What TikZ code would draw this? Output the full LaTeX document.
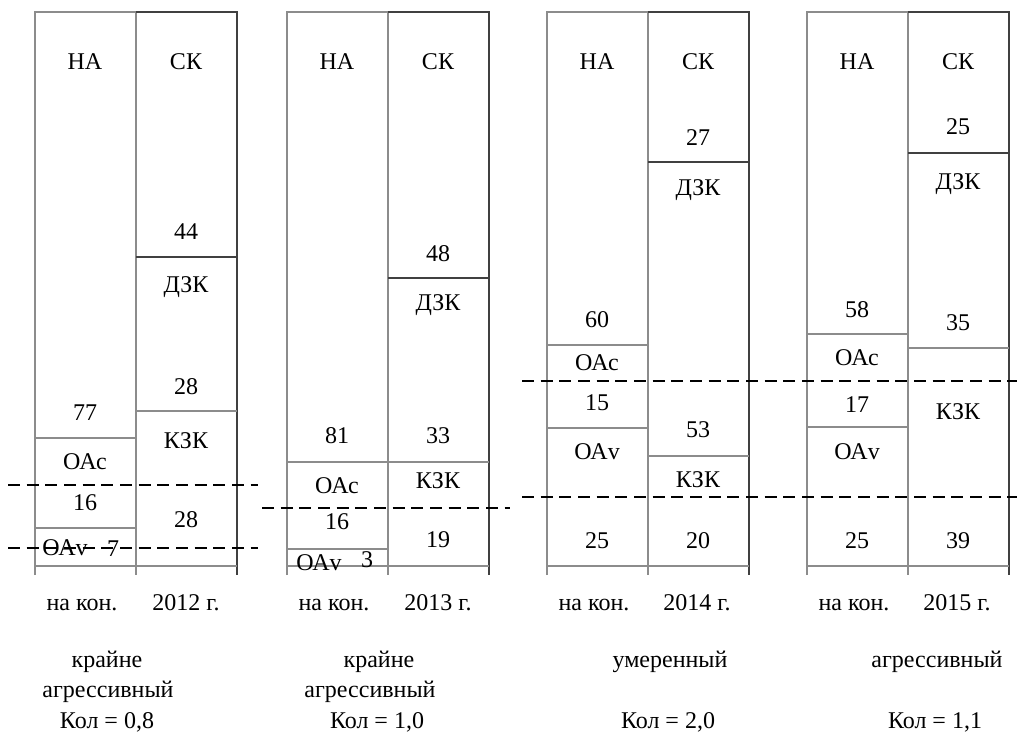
\documentclass[tikz,border=0pt]{standalone}
\usepackage{fontspec}
\setmainfont{Liberation Serif}
\tikzset{
  cell/.style={draw=black!45, line width=0.9pt},
  cellR/.style={draw=black!75, line width=0.9pt},
  level/.style={line width=1.4pt, dash pattern=on 9pt off 5pt},
  lbl/.style={font=\fontsize{18}{20}\selectfont, inner sep=0pt, anchor=base},
}
\begin{document}
\begin{tikzpicture}[x=0.75pt,y=-0.75pt,line cap=butt,line join=miter]
  \useasboundingbox (0,0) rectangle (1017,740);
  % 2012
  \draw[cell] (35,575) -- (35,12) -- (136,12) -- (136,575);
  \draw[cellR] (136,12) -- (237,12) -- (237,575);
  \draw[cell] (35,566) -- (237,566);
  \draw[cell] (35,438) -- (136,438);
  \draw[cell] (35,528) -- (136,528);
  \draw[cellR] (136,257) -- (237,257);
  \draw[cell] (136,411) -- (237,411);
  \draw[level] (8,485) -- (258,485);
  \draw[level] (8,548) -- (258,548);
  \node[lbl] (na12) at (85,69) {НА};
  \node[lbl] (sk12) at (186,69) {СК};
  \node[lbl] (v77) at (85,420) {77};
  \node[lbl] (oac12) at (85,469) {ОАс};
  \node[lbl] (v16a) at (85,510) {16};
  \node[lbl] (oav12) at (65,555) {ОАv};
  \node[lbl] (v7) at (113,556) {7};
  \node[lbl] (v44) at (186,239) {44};
  \node[lbl] (dzk12) at (186,292) {ДЗК};
  \node[lbl] (v28a) at (186,394) {28};
  \node[lbl] (kzk12) at (186,448) {КЗК};
  \node[lbl] (v28b) at (186,527) {28};
  % 2013
  \draw[cell] (287,575) -- (287,12) -- (388,12) -- (388,575);
  \draw[cellR] (388,12) -- (489,12) -- (489,575);
  \draw[cell] (287,566) -- (489,566);
  \draw[cell] (287,462) -- (489,462);
  \draw[cell] (287,549) -- (388,549);
  \draw[cellR] (388,278) -- (489,278);
  \draw[level] (262,508) -- (510,508);
  \node[lbl] (na13) at (337,69) {НА};
  \node[lbl] (sk13) at (438,69) {СК};
  \node[lbl] (v81) at (337,443) {81};
  \node[lbl] (oac13) at (337,493) {ОАс};
  \node[lbl] (v16b) at (337,529) {16};
  \node[lbl] (oav13) at (319,570) {ОАv};
  \node[lbl] (v3) at (367,567) {3};
  \node[lbl] (v48) at (438,261) {48};
  \node[lbl] (dzk13) at (438,310) {ДЗК};
  \node[lbl] (v33) at (438,443) {33};
  \node[lbl] (kzk13) at (438,488) {КЗК};
  \node[lbl] (v19) at (438,547) {19};
  % 2014
  \draw[cell] (547,575) -- (547,12) -- (648,12) -- (648,575);
  \draw[cellR] (648,12) -- (749,12) -- (749,575);
  \draw[cell] (547,566) -- (749,566);
  \draw[cell] (547,345) -- (648,345);
  \draw[cell] (547,428) -- (648,428);
  \draw[cellR] (648,162) -- (749,162);
  \draw[cell] (648,456) -- (749,456);
  \node[lbl] (na14) at (597,69) {НА};
  \node[lbl] (sk14) at (698,69) {СК};
  \node[lbl] (v60) at (597,327) {60};
  \node[lbl] (oac14) at (597,370) {ОАс};
  \node[lbl] (v15) at (597,410) {15};
  \node[lbl] (oav14) at (597,459) {ОАv};
  \node[lbl] (v25a) at (597,548) {25};
  \node[lbl] (v27) at (698,145) {27};
  \node[lbl] (dzk14) at (698,195) {ДЗК};
  \node[lbl] (v53) at (698,437) {53};
  \node[lbl] (kzk14) at (698,487) {КЗК};
  \node[lbl] (v20) at (698,548) {20};
  % 2015
  \draw[cell] (807,575) -- (807,12) -- (908,12) -- (908,575);
  \draw[cellR] (908,12) -- (1009,12) -- (1009,575);
  \draw[cell] (807,566) -- (1009,566);
  \draw[cell] (807,334) -- (908,334);
  \draw[cell] (807,427) -- (908,427);
  \draw[cellR] (908,153) -- (1009,153);
  \draw[cell] (908,348) -- (1009,348);
  \node[lbl] (na15) at (857,69) {НА};
  \node[lbl] (sk15) at (958,69) {СК};
  \node[lbl] (v58) at (857,317) {58};
  \node[lbl] (oac15) at (857,365) {ОАс};
  \node[lbl] (v17) at (857,412) {17};
  \node[lbl] (oav15) at (857,459) {ОАv};
  \node[lbl] (v25b) at (857,548) {25};
  \node[lbl] (v25c) at (958,134) {25};
  \node[lbl] (dzk15) at (958,189) {ДЗК};
  \node[lbl] (v35) at (958,330) {35};
  \node[lbl] (kzk15) at (958,419) {КЗК};
  \node[lbl] (v39) at (958,548) {39};
  % levels 2014-2015
  \draw[level] (522,381) -- (1017,381);
  \draw[level] (522,497) -- (1017,497);
  % captions
  \node[lbl] (end12) at (82,610) {на кон.};
  \node[lbl] (y12) at (186,610) {2012 г.};
  \node[lbl] (end13) at (334,610) {на кон.};
  \node[lbl] (y13) at (438,610) {2013 г.};
  \node[lbl] (end14) at (594,610) {на кон.};
  \node[lbl] (y14) at (697,610) {2014 г.};
  \node[lbl] (end15) at (854,610) {на кон.};
  \node[lbl] (y15) at (957,610) {2015 г.};
  \node[lbl] (t12a) at (107,667) {крайне};
  \node[lbl] (t12b) at (108,697) {агрессивный};
  \node[lbl] (k12) at (107,728) {Кол = 0,8};
  \node[lbl] (t13a) at (379,667) {крайне};
  \node[lbl] (t13b) at (370,697) {агрессивный};
  \node[lbl] (k13) at (377,728) {Кол = 1,0};
  \node[lbl] (t14) at (670,667) {умеренный};
  \node[lbl] (k14) at (668,728) {Кол = 2,0};
  \node[lbl] (t15) at (937,667) {агрессивный};
  \node[lbl] (k15) at (935,728) {Кол = 1,1};
\end{tikzpicture}
\end{document}
